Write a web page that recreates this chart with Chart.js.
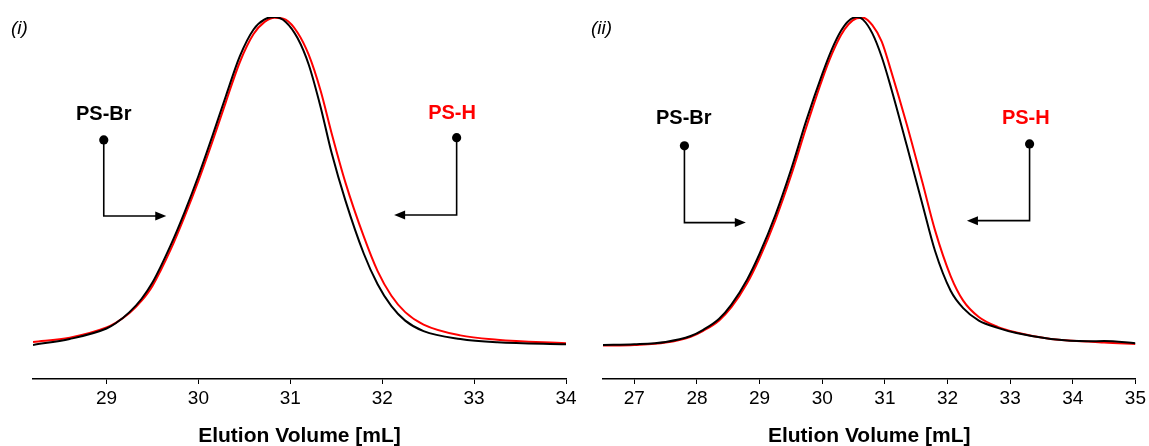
<!DOCTYPE html>
<html lang="en">
<head>
<meta charset="UTF-8">
<title>SEC traces PS-Br / PS-H</title>
<script src="https://cdn.jsdelivr.net/npm/chart.js"></script>
<style>
  body { margin: 0; background: #fff; }
  #wrap { position: relative; width: 1149px; height: 446px; }
  canvas { position: absolute; top: 0; }
</style>
</head>
<body>
<div id="wrap">
  <canvas id="chart1" width="580" height="446" style="left:0px"></canvas>
  <canvas id="chart2" width="574" height="446" style="left:575px"></canvas>
</div>
<script>
// panel (i): elution volume [mL] and normalised detector response
const volume1 = [28.2, 28.6, 29.0, 29.1, 29.25, 29.38, 29.5, 29.7, 29.85, 30.0, 30.15, 30.3, 30.45, 30.6, 30.72, 30.83,
                 30.95, 31.08, 31.2, 31.33, 31.45, 31.6, 31.8, 31.95, 32.1, 32.25, 32.45, 32.85, 33.25, 34.0];
const psBr1 = [0.0, 0.018, 0.05, 0.066, 0.1, 0.14, 0.19, 0.305, 0.405, 0.515, 0.635, 0.76, 0.88, 0.962, 0.993, 1.0,
               0.985, 0.935, 0.855, 0.725, 0.585, 0.44, 0.278, 0.185, 0.118, 0.074, 0.042, 0.018, 0.008, 0.002];
const psH1 = [0.009, 0.022, 0.053, 0.067, 0.097, 0.134, 0.18, 0.292, 0.392, 0.5, 0.618, 0.742, 0.862, 0.948, 0.985, 0.998,
              0.992, 0.952, 0.885, 0.775, 0.645, 0.495, 0.33, 0.225, 0.15, 0.1, 0.062, 0.029, 0.016, 0.005];
const ticks1 = [29, 30, 31, 32, 33, 34];

// panel (ii)
const volume2 = [26.5, 27.0, 27.5, 27.9, 28.1, 28.35, 28.55, 28.8, 29.0, 29.25, 29.5, 29.75, 30.0, 30.15,
                 30.3, 30.42, 30.55, 30.65, 30.8, 30.95, 31.1, 31.35, 31.6, 31.8, 32.05, 32.25, 32.5, 32.8,
                 33.1, 33.65, 34.25, 34.5, 35.0];
const psBr2 = [0.0, 0.002, 0.009, 0.027, 0.046, 0.079, 0.123, 0.199, 0.278, 0.395, 0.533, 0.687, 0.826, 0.9,
               0.958, 0.988, 1.0, 0.992, 0.95, 0.878, 0.783, 0.608, 0.428, 0.287, 0.165, 0.112, 0.074, 0.052,
               0.036, 0.018, 0.011, 0.012, 0.005];
const psH2 = [-0.002, 0.0, 0.007, 0.025, 0.043, 0.074, 0.115, 0.188, 0.265, 0.38, 0.515, 0.667, 0.81, 0.885,
              0.945, 0.978, 0.996, 0.998, 0.975, 0.925, 0.835, 0.672, 0.495, 0.35, 0.21, 0.135, 0.085, 0.055,
              0.038, 0.018, 0.01, 0.007, 0.003];
const ticks2 = [27, 28, 29, 30, 31, 32, 33, 34, 35];

const FONT = "'Liberation Sans', Arial, Helvetica, sans-serif";

// callout: label, dot, elbow line and arrow, all in data units
const callouts1 = [
  { text: 'PS-Br', color: '#000', tx: 28.97, ty: 0.704, x: 28.97, y: 0.625, yc: 0.393, tip: 29.65 },
  { text: 'PS-H', color: '#ff0000', tx: 32.76, ty: 0.707, x: 32.81, y: 0.632, yc: 0.396, tip: 32.13 }
];
const callouts2 = [
  { text: 'PS-Br', color: '#000', tx: 27.79, ty: 0.689, x: 27.80, y: 0.607, yc: 0.373, tip: 28.78 },
  { text: 'PS-H', color: '#ff0000', tx: 33.25, ty: 0.692, x: 33.31, y: 0.613, yc: 0.379, tip: 32.31 }
];

const calloutPlugin = {
  id: 'callouts',
  afterDatasetsDraw(chart, args, opts) {
    const ctx = chart.ctx;
    const xs = chart.scales.x, ys = chart.scales.y;
    ctx.save();
    ctx.fillStyle = '#000';
    ctx.font = 'italic 19px ' + FONT;
    ctx.textAlign = 'left';
    ctx.textBaseline = 'middle';
    ctx.fillText(opts.tag, opts.tagX, 29);

    opts.items.forEach(c => {
      const px = xs.getPixelForValue(c.x);
      const py = ys.getPixelForValue(c.y);
      const pc = ys.getPixelForValue(c.yc);
      const tip = xs.getPixelForValue(c.tip);
      const dir = Math.sign(tip - px);

      ctx.font = 'bold 20px ' + FONT;
      ctx.textAlign = 'center';
      ctx.fillStyle = c.color;
      ctx.fillText(c.text, xs.getPixelForValue(c.tx), ys.getPixelForValue(c.ty));

      ctx.strokeStyle = '#000';
      ctx.fillStyle = '#000';
      ctx.lineWidth = 1.6;
      ctx.beginPath();
      ctx.moveTo(px, py);
      ctx.lineTo(px, pc);
      ctx.lineTo(tip - dir * 9, pc);
      ctx.stroke();

      ctx.beginPath();
      ctx.moveTo(tip, pc);
      ctx.lineTo(tip - dir * 11, pc - 4.5);
      ctx.lineTo(tip - dir * 11, pc + 4.5);
      ctx.closePath();
      ctx.fill();

      ctx.beginPath();
      ctx.arc(px, py, 4.6, 0, Math.PI * 2);
      ctx.fill();
    });
    ctx.restore();
  }
};

function toPoints(xv, yv) {
  return xv.map((v, i) => ({ x: v, y: yv[i] }));
}

function makeChart(id, vols, br, h, tickVals, xmin, xmax, padL, padR, tag, tagX, notes) {
  const ctx = document.getElementById(id).getContext('2d');
  return new Chart(ctx, {
    type: 'line',
    data: {
      datasets: [
        {
          label: 'PS-Br',
          data: toPoints(vols, br),
          borderColor: '#000000',
          borderWidth: 2,
          pointRadius: 0,
          cubicInterpolationMode: 'monotone',
          fill: false
        },
        {
          label: 'PS-H',
          data: toPoints(vols, h),
          borderColor: '#ff0000',
          borderWidth: 2,
          pointRadius: 0,
          cubicInterpolationMode: 'monotone',
          fill: false
        }
      ]
    },
    options: {
      responsive: false,
      animation: false,
      layout: { padding: { left: padL, right: padR, top: 17, bottom: 0 } },
      plugins: {
        legend: { display: false },
        tooltip: { enabled: false },
        callouts: { tag: tag, tagX: tagX, items: notes }
      },
      scales: {
        x: {
          type: 'linear',
          min: xmin,
          max: xmax,
          afterBuildTicks: s => { s.ticks = tickVals.map(v => ({ value: v })); },
          afterFit: s => { s.height = 67; },
          grid: { display: true, drawOnChartArea: false, drawTicks: true, tickLength: 5, color: '#000', lineWidth: 1 },
          border: { display: true, color: '#000', width: 1.5 },
          ticks: { color: '#000', font: { size: 19, family: FONT }, padding: 3, maxRotation: 0, autoSkip: false },
          title: {
            display: true,
            text: 'Elution Volume [mL]',
            color: '#000',
            font: { size: 21, weight: 'bold', family: FONT },
            padding: { top: 0, bottom: -3 }
          }
        },
        y: { display: false, min: -0.104, max: 1.0 }
      }
    },
    plugins: [calloutPlugin]
  });
}

makeChart('chart1', volume1, psBr1, psH1, ticks1, 28.2, 34, 33, 14, '(i)', 11, callouts1);
makeChart('chart2', volume2, psBr2, psH2, ticks2, 26.5, 35, 28, 13, '(ii)', 16, callouts2);
</script>
</body>
</html>
